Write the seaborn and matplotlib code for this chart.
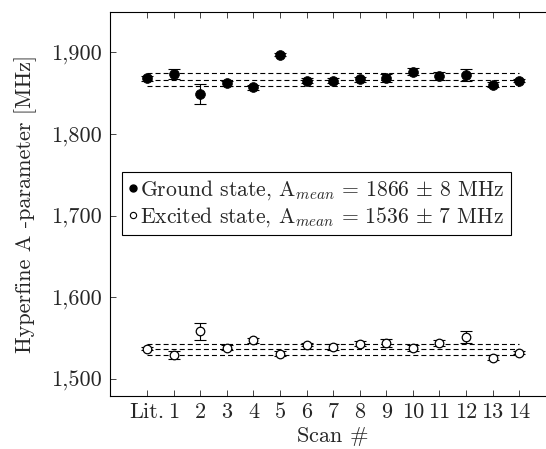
import matplotlib
matplotlib.use("Agg")
import matplotlib.pyplot as plt
from matplotlib.lines import Line2D
import numpy as np
import pandas as pd
import seaborn as sns

# Valeurs
scans = ["Lit.", "1", "2", "3", "4", "5", "6", "7", "8", "9", "10", "11", "12", "13", "14"]
ground = [1868, 1873, 1849, 1862, 1857, 1897, 1865, 1865, 1867, 1868, 1876, 1871, 1872, 1860, 1865]
ground_err = [3, 6, 12, 3, 3, 2, 3, 3, 3, 5, 4, 5, 7, 3, 2]
excited = [1537, 1529, 1558, 1538, 1547, 1531, 1542, 1539, 1543, 1544, 1538, 1544, 1551, 1526, 1532]
excited_err = [2, 5, 11, 3, 3, 3, 2, 4, 3, 5, 4, 4, 7, 3, 2]
ground_mean, ground_sd = 1866, 8
excited_mean, excited_sd = 1536, 7
yticks = [1500, 1600, 1700, 1800, 1900]

sns.set_style("white")
plt.rcParams['font.family'] = ['cmr10', 'DejaVu Serif']
plt.rcParams['mathtext.fontset'] = 'cm'
plt.rcParams['axes.formatter.use_mathtext'] = True
plt.rcParams['lines.scale_dashes'] = False

x = np.arange(len(scans))
df = pd.DataFrame({'x': np.concatenate([x, x]),
                   'A': ground + excited,
                   'err': ground_err + excited_err,
                   'etat': ['ground'] * len(x) + ['excited'] * len(x)})

fig = plt.figure(figsize=(5.46, 4.49), dpi=100)
ax = fig.add_axes([0.2015, 0.118, 0.815, 0.855])

# Lignes moyenne +/- écart
for m, s in [(ground_mean, ground_sd), (excited_mean, excited_sd)]:
    for v in (m - s, m, m + s):
        ax.plot([x[0], x[-1]], [v, v], color='black', lw=0.8, dashes=(3.6, 2.2), zorder=1)

# Barres d'erreur
ax.errorbar(x, ground, yerr=ground_err, fmt='none', ecolor='black', elinewidth=0.8,
            capsize=4, capthick=0.8, zorder=2)
ax.errorbar(x, excited, yerr=excited_err, fmt='none', ecolor='black', elinewidth=0.8,
            capsize=4, capthick=0.8, zorder=2)

# Points
sns.scatterplot(data=df[df.etat == 'ground'], x='x', y='A', ax=ax, marker='o',
                color='black', edgecolor='black', s=50, linewidth=0.5, legend=False, zorder=3)
sns.scatterplot(data=df[df.etat == 'excited'], x='x', y='A', ax=ax, marker='o',
                facecolor='white', edgecolor='black', s=38, linewidth=0.9, legend=False, zorder=3)

ax.set_xlim(-1.4, 15.35)
ax.set_ylim(1479, 1949)
ax.set_xticks(x)
ax.set_xticklabels(scans)
ax.set_yticks(yticks)
ax.set_yticklabels([f"{v:,}" for v in yticks])
ax.tick_params(axis='x', direction='in', top=True, bottom=True, length=4, width=0.6,
               labelsize=16, pad=5)
ax.tick_params(axis='y', direction='in', left=True, right=False, length=4, width=0.6,
               labelsize=16, pad=6)
for sp in ax.spines.values():
    sp.set_linewidth(0.8)
    sp.set_color('black')

ax.set_xlabel("Scan $\\#$", fontsize=16, labelpad=2)
ax.set_ylabel("Hyperfine A -parameter [MHz]", fontsize=16, labelpad=10)

handles = [
    Line2D([], [], marker='o', color='black', linestyle='none', markersize=5),
    Line2D([], [], marker='o', markerfacecolor='white', markeredgecolor='black',
           linestyle='none', markersize=4.5, markeredgewidth=0.8),
]
labels = [
    r"Ground state, A$_{mean}\,=\," + str(ground_mean) + r"\,\pm\," + str(ground_sd) + r"$ MHz",
    r"Excited state, A$_{mean}\,=\," + str(excited_mean) + r"\,\pm\," + str(excited_sd) + r"$ MHz",
]
leg = ax.legend(handles, labels, loc='upper left', bbox_to_anchor=(0.027, 0.583),
                fontsize=15.6, frameon=True, fancybox=False, framealpha=1,
                edgecolor='black', handlelength=0.4, handletextpad=0.15,
                borderpad=0.3, labelspacing=0.12, borderaxespad=0)
leg.get_frame().set_linewidth(0.8)

fig.savefig("out.png", dpi=100)
